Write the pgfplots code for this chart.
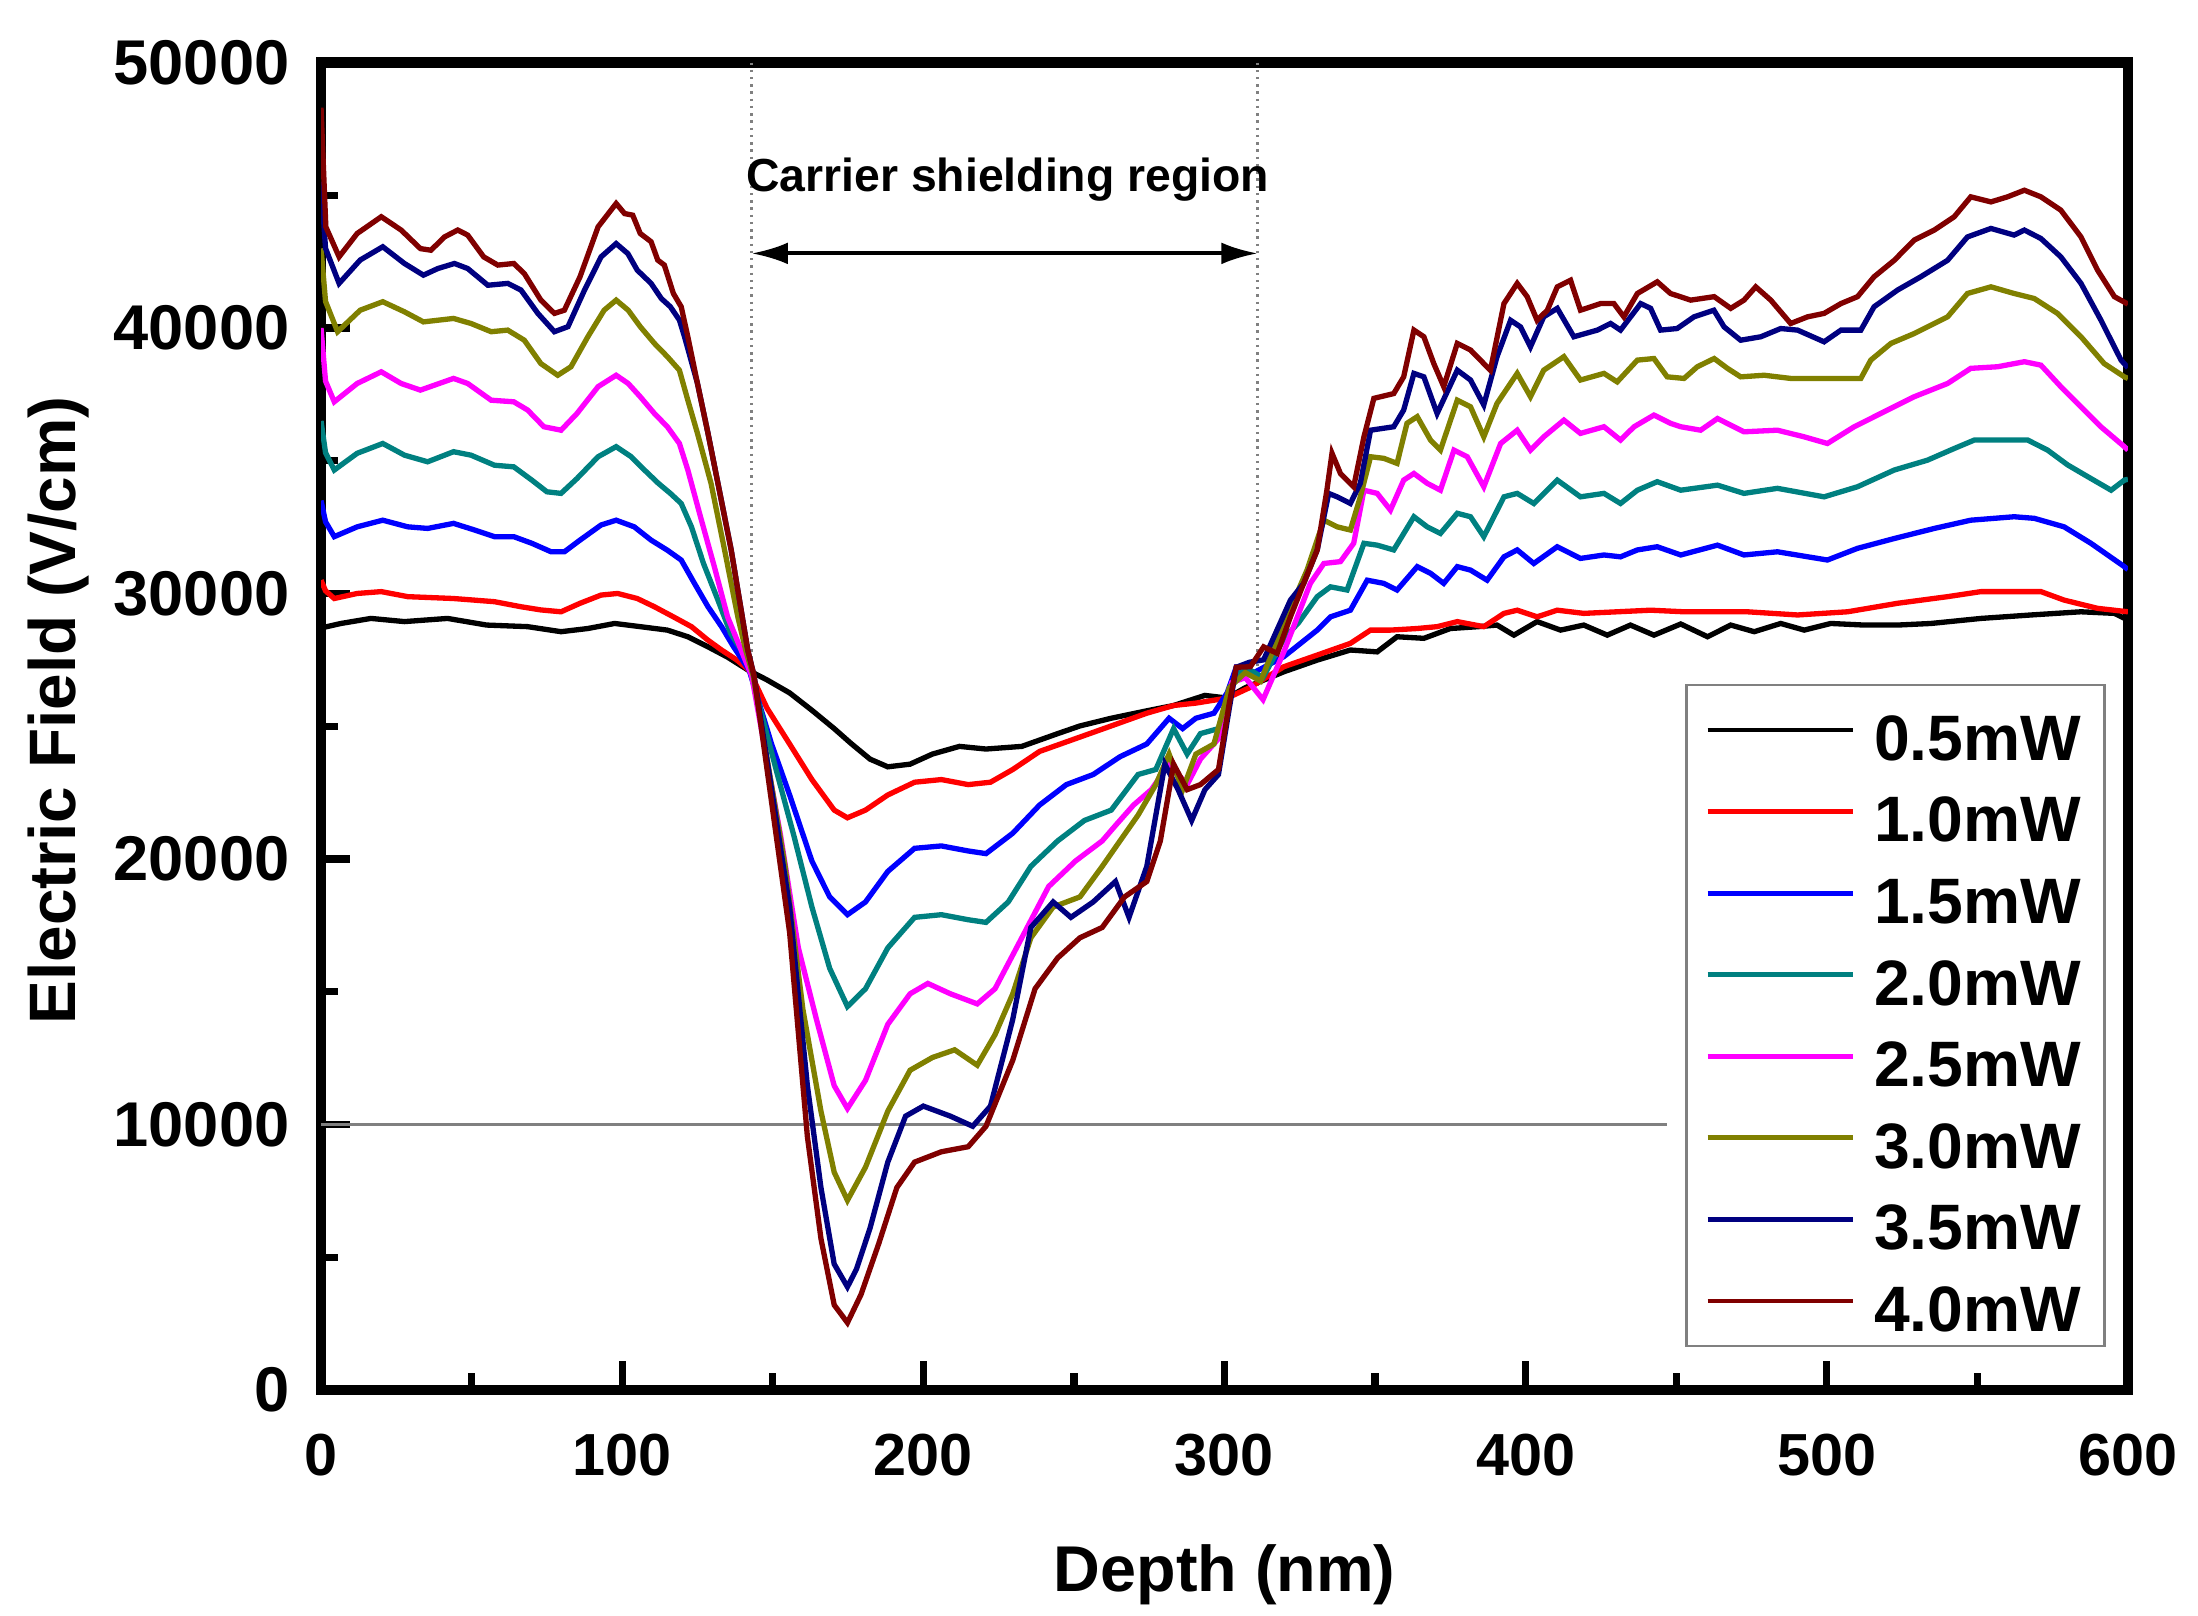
\documentclass[border=0pt]{standalone}
\usepackage{fontspec}
\setmainfont{Liberation Sans}
\usepackage{pgfplots}
\pgfplotsset{compat=1.18}
\usetikzlibrary{arrows.meta}

\definecolor{cteal}{RGB}{0,128,128}
\definecolor{colive}{RGB}{128,128,0}
\definecolor{cnavy}{RGB}{0,0,128}
\definecolor{cdred}{RGB}{128,0,0}
\definecolor{cmag}{RGB}{255,0,255}
\definecolor{cred}{RGB}{255,0,0}
\definecolor{cblue}{RGB}{0,0,255}

\begin{document}
\begin{tikzpicture}
\useasboundingbox (-2.337cm,-1.645cm) rectangle (13.664cm,10.118cm);
\begin{axis}[
    at={(0,0)}, anchor=south west,
    width=13.154cm, height=9.663cm, scale only axis,
    xmin=0, xmax=600, ymin=0, ymax=50000,
    xtick={0,100,...,600}, ytick={0,10000,...,50000},
    minor x tick num=1, minor y tick num=1,
    xtick pos=left, ytick pos=left,
    tick align=inside,
    major tick length=6pt, minor tick length=3.5pt,
    every tick/.append style={black, line width=1.5pt},
    axis line style={line width=2.2pt},
    scaled y ticks=false,
    /pgf/number format/1000 sep={},
    /pgf/number format/assume math mode=true,
    xticklabel style={font=\fontsize{12.3}{14}\selectfont\bfseries, yshift=-5.6pt},
    yticklabel style={font=\fontsize{13.1}{15}\selectfont\bfseries, xshift=-3pt},
    xlabel={Depth (nm)},
    ylabel={Electric Field (V/cm)},
    xlabel style={font=\fontsize{13.4}{15}\selectfont\bfseries,
        at={(axis description cs:0.5,-0.1394)}, anchor=center},
    ylabel style={font=\fontsize{13.6}{15}\selectfont\bfseries,
        at={(axis description cs:-0.145,0.512)}, anchor=center},
    every axis plot/.append style={line width=1.1pt, no marks},
    legend style={at={(0.988,0.032)}, anchor=south east,
        draw=gray, line width=0.6pt,
        font=\fontsize{13.3}{15}\selectfont\bfseries,
        inner xsep=3.9pt, inner ysep=2pt, row sep=2.3pt,
        nodes={inner sep=1pt, text height=12.6pt, text depth=0pt},
        /tikz/every odd column/.append style={column sep=3pt}},
    legend cell align=left,
    legend image code/.code={\draw[#1, line width=1pt] (3pt,0pt) -- (33pt,0pt);},
]

% annotations
\draw[gray, line width=0.5pt] (axis cs:0,10000) -- (axis cs:447,10000);
\draw[gray, line width=0.5pt, densely dotted] (axis cs:143,50000) -- (axis cs:143,27000);
\draw[gray, line width=0.5pt, densely dotted] (axis cs:311,50000) -- (axis cs:311,26500);
\draw[{Latex[length=7.5pt,width=4.5pt]}-{Latex[length=7.5pt,width=4.5pt]}, line width=0.8pt]
    (axis cs:143,42810) -- (axis cs:311,42810);
\node[font=\fontsize{9.6}{11}\selectfont\bfseries] at (axis cs:228,45600) {Carrier shielding region};

% 0.5 mW
\addplot[black] coordinates {
(0,28700) (6.6,28870) (16.6,29060) (27.7,28940) (42,29060) (55,28810) (68.6,28750)
(79.7,28560) (88.6,28680) (97.5,28870) (106,28750) (115,28620) (121.8,28370) (128.5,27990)
(135,27600) (142,27100) (148,26750) (155.6,26255) (163,25600) (170.4,24910) (176,24350)
(182.3,23760) (188.2,23470) (195.6,23570) (203,23950) (212,24240) (220.8,24140) (232.7,24240)
(244.6,24720) (252,25010) (262.4,25300) (274.2,25580) (283.1,25780) (293.5,26160) (300.9,26060)
(306.9,26450) (319.7,27050) (330.8,27490) (341.8,27870) (350.7,27800) (357.3,28370) (366.2,28310)
(375,28680) (384.4,28750) (390.5,28810) (396.1,28430) (403.8,28940) (411.6,28620) (419.3,28810)
(427.1,28430) (434.8,28810) (442.6,28430) (451.5,28850) (460.4,28370) (468.1,28810) (475.9,28560)
(484.7,28870) (492.5,28620) (501.3,28870) (512.4,28810) (523.5,28810) (534.6,28870) (551.2,29060)
(567.8,29190) (584.4,29310) (595.5,29250) (600,29000)
};
% 1.0 mW
\addplot[cred] coordinates {
(0,30500) (1.5,30100) (4.4,29810) (12,30000) (20,30070) (28.8,29880) (44,29810) (57.6,29690)
(66.4,29500) (73,29380) (79.7,29310) (86,29630) (93,29940) (98.5,30000) (105,29810) (110.7,29500)
(117,29120) (123,28750) (128.5,28240) (133,27870) (138,27500) (142.2,27100) (148.1,25680)
(155.6,24330) (163,22990) (170.4,21840) (174.8,21550) (180.8,21840) (188.2,22410) (197.1,22890)
(206,22990) (214.9,22800) (222.3,22890) (229.7,23370) (238.6,24050) (250.5,24530) (262.4,25010)
(274.2,25490) (283.1,25780) (290.5,25870) (300.9,26060) (308.3,26450) (319.7,27240) (330.8,27680)
(341.8,28120) (348.5,28620) (355.1,28620) (364,28680) (370.6,28750) (377.3,28940) (386.1,28750)
(392.8,29250) (397.2,29370) (403.8,29120) (410.5,29370) (419.3,29250) (430.4,29310) (441.5,29370)
(452.6,29310) (463.6,29310) (473.6,29310) (490.3,29190) (506.9,29310) (523.5,29630) (540.1,29880)
(551.2,30070) (562.2,30070) (571.1,30070) (578.8,29750) (589.9,29440) (600,29310)
};
% 1.5 mW
\addplot[cblue] coordinates {
(0,33500) (1.5,32700) (4.4,32140) (12,32510) (20.5,32760) (28.8,32510) (35.4,32450) (44,32640)
(51,32390) (57.6,32140) (64,32140) (70,31890) (76.4,31570) (80.8,31570) (86,32010) (93,32580)
(98,32760) (104,32510) (109.6,32010) (115,31630) (119.6,31260) (124,30380) (128.5,29500)
(133,28750) (137,27990) (142.2,27100) (149.6,24330) (155.6,22410) (163,19920) (168.9,18570)
(174.8,17900) (180.8,18380) (188.2,19530) (197.1,20400) (206,20490) (214.9,20300) (220.8,20200)
(229.7,20970) (238.6,22030) (247.5,22800) (256.4,23180) (265.3,23850) (274.2,24330) (281.6,25300)
(286.1,24910) (290.5,25300) (296.5,25490) (300.9,26260) (303.9,27220) (309.8,27020) (319.7,27620)
(330.8,28620) (335.2,29120) (341.8,29370) (347.4,30500) (352.9,30380) (357.3,30130) (364,31010)
(368.4,30760) (372.8,30380) (377.3,31010) (381.7,30880) (387.2,30500) (392.8,31380) (397.2,31640)
(402.7,31130) (410.5,31760) (418.2,31320) (426,31450) (431.5,31380) (437.1,31640) (443.7,31760)
(451.5,31450) (463.7,31820) (472.5,31450) (483.6,31570) (500.2,31260) (510.2,31700) (522.4,32070)
(535.7,32450) (547.8,32760) (562.2,32890) (568.9,32830) (578.8,32510) (587.7,31890) (598.8,31010)
(600,30900)
};
% 2.0 mW
\addplot[cteal] coordinates {
(0,36500) (1.5,35300) (4.4,34650) (12,35280) (20.5,35650) (27.7,35210) (35.4,34960) (44,35340)
(49.8,35210) (57.6,34830) (64,34770) (70,34270) (75,33830) (79.7,33770) (85,34330) (92,35150)
(98,35530) (103,35150) (107.4,34650) (112,34150) (116,33770) (119.6,33390) (123,32510) (127,31130)
(131.8,29750) (136,28500) (139.5,27870) (142.5,27100) (151.1,23370) (157,20880) (163,18190)
(168.9,15880) (174.8,14440) (180.8,15110) (188.2,16650) (197.1,17800) (206,17900) (214.9,17710)
(220.8,17610) (228.2,18380) (235.7,19720) (244.6,20680) (253.5,21450) (262.4,21840) (271.3,23180)
(277.2,23370) (283.1,24910) (287.6,23950) (292,24720) (298,24910) (302.4,26640) (306.9,27220)
(312.8,26830) (319.7,28300) (324.6,28900) (330.8,29880) (335.2,30250) (340.7,30130) (346.3,31890)
(350.7,31820) (356.2,31640) (362.9,32890) (367.3,32510) (371.7,32260) (377.3,33020) (381.7,32890)
(386.1,32140) (392.8,33640) (397.2,33770) (402.7,33390) (410.5,34270) (418.2,33640) (426,33770)
(431.5,33390) (437.1,33890) (443.7,34210) (451.5,33890) (463.7,34080) (472.5,33770) (483.6,33960)
(499.1,33640) (510.2,34020) (522.4,34650) (533.4,35020) (542.3,35460) (549,35780) (562.2,35780)
(566.7,35780) (573.3,35400) (580,34840) (587.7,34330) (594.4,33890) (598.8,34270) (600,34300)
};
% 2.5 mW
\addplot[cmag] coordinates {
(0,40000) (1.5,38000) (4.4,37220) (12,37910) (20,38350) (26.6,37910) (33,37660) (44,38100)
(48.7,37910) (56.5,37280) (64,37220) (68.6,36910) (74,36280) (79.7,36150) (85,36780) (92,37790)
(98,38220) (102,37910) (106,37410) (110.7,36780) (115,36280) (119,35650) (121.8,34650) (126,32890)
(130.6,31010) (135,29120) (139.5,27870) (143,26900) (152.6,20880) (158.5,16650) (164.5,13960)
(170.4,11460) (174.8,10600) (180.8,11660) (188.2,13770) (195.6,14920) (201.5,15310) (209,14920)
(217.9,14540) (223.8,15110) (232.7,17030) (241.6,18960) (250.5,19920) (259.4,20680) (263.8,21260)
(269.8,22030) (275.7,22610) (281.6,23570) (287.6,22800) (292,23760) (298,24530) (302.4,26640)
(306.9,26830) (312.8,26000) (319.7,27800) (328.5,30380) (333,31130) (338.5,31200) (342.9,31890)
(346.3,33890) (350.7,33770) (355.1,33140) (359.5,34270) (362.9,34520) (367.3,34150) (371.7,33890)
(376.2,35400) (380.6,35150) (386.1,34020) (391.7,35650) (397.2,36150) (401.6,35400) (406,35900)
(412.7,36530) (418.2,36030) (426,36280) (431.5,35780) (436,36280) (442.6,36720) (448.1,36410)
(451.5,36280) (458.1,36150) (463.7,36590) (472.5,36090) (483.6,36150) (492.5,35900) (500.2,35650)
(509.1,36280) (517.9,36780) (529,37410) (540.1,37910) (547.8,38480) (556.7,38540) (565.6,38730)
(571.1,38600) (577.7,37790) (584.4,37030) (591,36280) (598.8,35530) (600,35400)
};
% 3.0 mW
\addplot[colive] coordinates {
(0,43000) (1.5,41000) (5.5,39860) (13,40670) (20.5,40990) (27.7,40610) (34,40230) (44,40360)
(49.8,40170) (56.5,39860) (62,39920) (67.5,39540) (73,38660) (78.6,38220) (83,38540) (88.6,39670)
(94,40670) (98,41050) (102,40670) (106,40050) (110.7,39420) (115,38920) (119,38410) (121.8,37280)
(125,36030) (129.5,34150) (134,31640) (138.4,29120) (141,27870) (143.5,26900) (154.1,19720)
(160,14340) (166,10500) (170.4,8200) (174.8,7140) (180.8,8390) (188.2,10500) (195.6,12040)
(203,12520) (210.4,12810) (217.9,12230) (223.8,13380) (229.7,14920) (235.7,17030) (243.1,18190)
(252,18570) (259.4,19720) (265.3,20680) (271.3,21650) (277.2,22800) (281.6,23950) (286.1,22610)
(290.5,23950) (296.5,24330) (301.6,26450) (306.9,27020) (312,26700) (319.7,28870) (327.4,30880)
(333,32760) (337.4,32510) (341.8,32390) (345.1,33640) (348.5,35150) (352.9,35090) (357.3,34900)
(360.6,36410) (364,36660) (368.4,35780) (371.7,35400) (377.3,37280) (381.7,37030) (386.1,35900)
(390.5,37160) (397.2,38290) (401.6,37410) (406,38410) (412.7,38920) (418.2,38040) (426,38290)
(430.4,37970) (437.1,38790) (442.6,38850) (447,38160) (452.6,38100) (457,38540) (462.6,38850)
(467,38480) (471.4,38160) (479.2,38220) (488,38100) (499.1,38100) (511.3,38100) (514.6,38790)
(521.3,39420) (529,39790) (540.1,40420) (546.7,41300) (554.5,41550) (562.2,41300) (568.9,41110)
(576.6,40550) (584.4,39670) (592.1,38660) (598.8,38160) (600,38100)
};
% 3.5 mW
\addplot[cnavy] coordinates {
(0,45500) (1.5,43000) (6,41680) (13,42560) (20.5,43060) (27.7,42430) (34,41990) (38.8,42240)
(44.3,42430) (48.7,42240) (55.4,41610) (62,41680) (66.4,41430) (72,40550) (77.5,39860) (82,40050)
(87.5,41430) (93,42680) (98,43180) (101.9,42800) (105,42180) (109.6,41680) (113,41110) (116,40800)
(119,40300) (120.7,39670) (125,37910) (128.5,36030) (132.9,33520) (136.2,31640) (139.5,29380)
(141.7,27870) (143.8,26900) (155.6,18190) (161.5,11460) (166,7620) (170.4,4740) (174.8,3880)
(177.8,4550) (182.3,6090) (188.2,8580) (194.1,10310) (200,10690) (209,10310) (216.4,9930)
(222.3,10690) (229.7,13960) (235.7,17420) (243.1,18380) (249,17800) (256.4,18380) (263.8,19150)
(268.3,17800) (274.2,19720) (280.2,23570) (284.6,22610) (289.1,21450) (293.5,22610) (298,23180)
(301.6,25680) (303.9,27220) (308.3,27410) (313,27500) (321.9,29750) (326.3,30380) (330.8,31640)
(334.6,33770) (337.4,33640) (341.8,33390) (345.1,34150) (348.5,36150) (356.2,36280) (359.5,36910)
(362.9,38290) (366.2,38160) (370.6,36780) (377.3,38410) (381.7,38040) (386.1,37100) (390.5,38920)
(395,40290) (398.3,40040) (401.6,39290) (406,40420) (410.5,40740) (416,39670) (423.8,39920)
(428.2,40170) (431.5,39920) (438.2,40920) (441.5,40740) (444.8,39920) (450.3,39980) (455.9,40420)
(462.5,40670) (465.9,40040) (471.4,39540) (478.1,39670) (484.7,39980) (490.3,39920) (499.1,39480)
(504.7,39920) (511.3,39920) (515.7,40800) (523.5,41430) (531.2,41930) (540.1,42550) (546.7,43430)
(554.5,43750) (562.2,43500) (565.6,43690) (571.1,43370) (577.7,42680) (584.4,41680) (591,40300)
(597.7,38790) (600,38500)
};
% 4.0 mW
\addplot[cdred] coordinates {
(0,48300) (1.6,43810) (6,42680) (12,43560) (20,44190) (26.6,43690) (33,42990) (36.5,42930)
(41,43430) (45.4,43690) (48.7,43500) (54,42680) (58.7,42370) (64,42430) (67.5,42050) (73,41050)
(77.5,40550) (80.8,40670) (86,41930) (92,43810) (98,44690) (100.8,44310) (103.5,44250) (106,43560)
(109.6,43250) (111.8,42560) (114,42370) (117,41300) (119.6,40800) (121.8,39670) (125,37910)
(128.5,36030) (132.9,33520) (136.2,31640) (139.5,29380) (141.7,27870) (143.8,26900) (155.6,17230)
(161.5,9540) (166,5700) (170.4,3200) (174.8,2530) (179.3,3590) (185.2,5510) (191.2,7620)
(197.1,8580) (206,8970) (214.9,9160) (220.8,9930) (229.7,12420) (237.1,15110) (244.6,16270)
(252,17030) (259.4,17420) (266.8,18570) (274.2,19150) (278.7,20680) (283.1,23570) (287.6,22610)
(292,22800) (298,23370) (301.6,25870) (303.9,27220) (308.6,27240) (313,27990) (317.5,27740)
(321.9,29120) (326.3,30380) (330.8,31640) (334,33890) (335.7,35280) (338.5,34520) (342.9,34020)
(346.3,35900) (349.6,37350) (356.2,37530) (359.5,38160) (362.9,39920) (366.2,39670) (369.5,38660)
(372.8,37790) (377.3,39420) (381.7,39170) (386.1,38660) (388.3,38410) (392.8,40920) (397.2,41680)
(400.5,41180) (403.8,40290) (407.2,40670) (410.5,41550) (414.9,41800) (418.2,40670) (424.9,40920)
(429.3,40920) (432.6,40420) (437.1,41300) (443.7,41740) (448.1,41300) (454.8,41050) (462.6,41180)
(468.1,40740) (472.5,41050) (476.4,41550) (481.4,41050) (488,40170) (493.6,40420) (499.1,40550)
(504.7,40920) (510.2,41180) (515.7,41930) (522.4,42550) (529,43310) (535.7,43690) (542.3,44190)
(547.8,44940) (554.5,44750) (560,44940) (565.6,45190) (571.1,44940) (577.7,44440) (584.4,43430)
(589.9,42180) (595.5,41180) (600,40900)
};
\legend{0.5mW,1.0mW,1.5mW,2.0mW,2.5mW,3.0mW,3.5mW,4.0mW}
\end{axis}
\end{tikzpicture}
\end{document}
